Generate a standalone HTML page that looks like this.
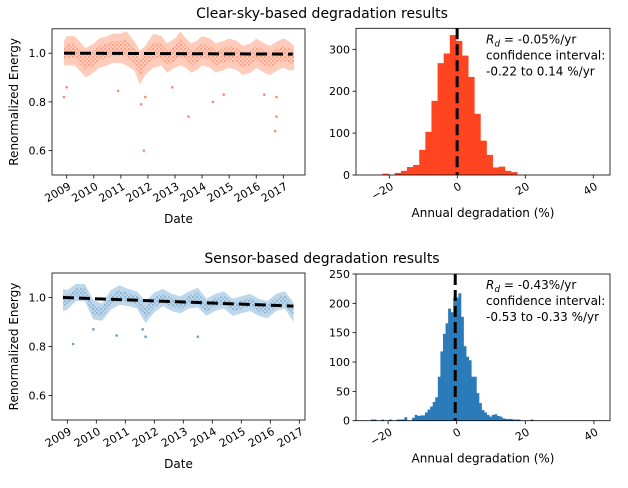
<!DOCTYPE html>
<html><head><meta charset="utf-8"><style>
body{margin:0;background:#fff}
svg{font-family:"DejaVu Sans","Liberation Sans",sans-serif}
</style></head><body>
<svg id="c" width="628" height="483" viewBox="0 0 628 483" xmlns="http://www.w3.org/2000/svg">
<defs>
<pattern id="dotsR" width="4" height="4" patternUnits="userSpaceOnUse"><circle cx="1" cy="1" r="0.9" fill="#ff5722" fill-opacity="0.6"/><circle cx="3" cy="3" r="0.9" fill="#ff5722" fill-opacity="0.4"/></pattern>
<pattern id="dotsB" width="4" height="4" patternUnits="userSpaceOnUse"><circle cx="1" cy="1" r="0.9" fill="#2b7bba" fill-opacity="0.6"/><circle cx="3" cy="3" r="0.9" fill="#2b7bba" fill-opacity="0.4"/></pattern>
</defs>
<text x="322" y="18" font-size="14" text-anchor="middle">Clear-sky-based degradation results</text>
<text x="322" y="263" font-size="14" text-anchor="middle">Sensor-based degradation results</text>
<g id="g"></g>
</svg>
<script>
// ---- Clear-sky scatter data ----
const csYears=[2008.9,2009.0,2009.3,2009.7,2010.0,2010.2,2010.5,2010.7,2011.0,2011.2,2011.5,2011.7,2011.9,2012.2,2012.5,2012.7,2013.0,2013.2,2013.4,2013.6,2013.8,2014.0,2014.3,2014.5,2014.8,2015.0,2015.3,2015.5,2015.8,2016.0,2016.3,2016.5,2016.8,2017.0,2017.2,2017.4];
const csCenter=[1.0,1.01,1.01,0.96,0.98,1.0,1.01,1.02,1.02,1.02,0.99,0.94,0.97,1.01,1.01,0.98,1.0,1.02,1.0,0.98,0.99,1.01,1.0,0.98,0.99,1.0,0.99,0.97,0.98,1.0,0.98,0.97,0.99,1.0,0.99,0.98];
const csSpread=[0.05,0.06,0.06,0.06,0.06,0.06,0.06,0.06,0.06,0.07,0.06,0.07,0.06,0.07,0.06,0.06,0.06,0.07,0.06,0.06,0.06,0.06,0.06,0.06,0.06,0.06,0.06,0.06,0.06,0.06,0.06,0.06,0.06,0.06,0.06,0.05];
const csOutX=[2008.9,2009.0,2010.9,2011.75,2011.85,2011.9,2012.9,2013.5,2014.4,2014.8,2016.3,2016.7,2016.75,2016.75];
const csOutY=[0.82,0.86,0.845,0.79,0.6,0.82,0.86,0.74,0.80,0.83,0.83,0.68,0.74,0.82];
const csTrend=[[2008.9,1.0],[2017.35,0.996]];
// ---- Sensor scatter data ----
const snYears=[2008.85,2009.0,2009.3,2009.6,2009.9,2010.2,2010.5,2010.8,2011.1,2011.4,2011.7,2012.0,2012.3,2012.6,2012.9,2013.2,2013.5,2013.8,2014.1,2014.4,2014.7,2015.0,2015.3,2015.6,2015.9,2016.2,2016.5,2016.8];
const snCenter=[0.99,0.99,1.02,1.02,0.95,0.94,0.99,1.01,1.0,0.99,0.94,0.98,1.0,0.98,0.97,0.99,1.0,0.96,0.98,0.99,0.96,0.97,0.98,0.96,0.95,0.98,0.99,0.94];
const snSpread=[0.045,0.04,0.035,0.035,0.04,0.035,0.04,0.04,0.035,0.035,0.045,0.04,0.035,0.035,0.035,0.035,0.04,0.035,0.035,0.035,0.035,0.035,0.035,0.035,0.035,0.035,0.035,0.04];
const snOutX=[2009.2,2010.7,2011.7,2013.5,2009.9,2011.6];
const snOutY=[0.81,0.845,0.84,0.84,0.87,0.87];
const snTrend=[[2008.85,1.0],[2016.8,0.965]];
// ---- Histograms ----
const csHistStart=-22, csHistWidth=1.8;
const csCounts=[3,0,5,10,19,24,60,103,177,267,290,334,320,285,234,146,82,48,18,20,10,7];
const snHistStart=-25, snHistWidth=0.75;
const snCounts=[2,2,0,0,2,0,0,2,0,0,2,2,2,6,0,0,5,10,8,9,9,14,19,24,32,40,75,118,148,166,191,185,210,210,217,177,127,109,103,75,75,47,30,18,14,10,7,10,11,8,7,4,3,3,3,2,2,2,0,0,0,0,2];
const yearTicks=[2009,2010,2011,2012,2013,2014,2015,2016,2017];
const scatterYTicks=[0.6,0.8,1.0];
const histXTicks=[-20,0,20,40];
const csYTicks=[0,100,200,300];
const snYTicks=[0,50,100,150,200,250];

const NS="http://www.w3.org/2000/svg";
const G=document.getElementById('g');
function mk(t,a,p){const e=document.createElementNS(NS,t);for(const k in a)e.setAttribute(k,a[k]);(p||G).appendChild(e);return e;}
function lin(d0,d1,r0,r1){return v=>r0+(v-d0)/(d1-d0)*(r1-r0);}

function scatterPanel(o){
  const X=lin(2009,2017,o.x2009,o.x2017), Y=lin(0.5,1.1,o.bottom,o.top);
  const g=mk('g',{});
  
  
  const clip='clip'+o.name;
  const cp=mk('clipPath',{id:clip},g);mk('rect',{x:o.left,y:o.top,width:o.right-o.left,height:o.bottom-o.top},cp);
  let up=[],dn=[];
  o.years.forEach((yr,i)=>{up.push(X(yr)+','+Y(o.center[i]+o.spread[i]));dn.unshift(X(yr)+','+Y(o.center[i]-o.spread[i]));});
  const band=mk('polygon',{points:up.concat(dn).join(' '),fill:o.color,'fill-opacity':0.3,'clip-path':`url(#${clip})`},g);
  
  
  let core=[],core2=[];
  o.years.forEach((yr,i)=>{core.push(X(yr)+','+Y(o.center[i]+o.spread[i]*0.5));core2.unshift(X(yr)+','+Y(o.center[i]-o.spread[i]*0.5));});
  const c2=mk('polygon',{points:core.concat(core2).join(' '),fill:`url(#${o.pat})`,'clip-path':`url(#${clip})`},g);
  
  
  o.outX.forEach((x,i)=>{const p=mk('circle',{cx:X(x),cy:Y(o.outY[i]),r:1.3,fill:o.color,'fill-opacity':0.7},g);
    
    });
  const tl=mk('line',{x1:X(o.trend[0][0]),y1:Y(o.trend[0][1]),x2:X(o.trend[1][0]),y2:Y(o.trend[1][1]),stroke:'#000','stroke-width':3,'stroke-dasharray':'11,5'},g);
  
  
  const fr=mk('rect',{x:o.left,y:o.top,width:o.right-o.left,height:o.bottom-o.top,fill:'none',stroke:'#000','stroke-width':0.8},g);
  
  
  scatterYTicks.forEach(v=>{mk('line',{x1:o.left-3.5,x2:o.left,y1:Y(v),y2:Y(v),stroke:'#000','stroke-width':0.8},g);
    const t=mk('text',{x:o.left-6,y:Y(v)+4,'font-size':11,'text-anchor':'end'},g);t.textContent=v.toFixed(1);
    
    });
  yearTicks.forEach(v=>{const x=X(v);mk('line',{x1:x,x2:x,y1:o.bottom,y2:o.bottom+3.5,stroke:'#000','stroke-width':0.8},g);
    const t=mk('text',{x:x+3,y:o.bottom+14,'font-size':11,'text-anchor':'end',transform:`rotate(-30 ${x+3} ${o.bottom+10})`},g);t.textContent=v;
    
    });
  const yl=mk('text',{x:0,y:0,'font-size':12,'text-anchor':'middle',transform:`translate(18 ${(o.top+o.bottom)/2}) rotate(-90)`},g);yl.textContent='Renormalized Energy';
  
  
  const xl=mk('text',{x:(o.left+o.right)/2,y:o.bottom+48,'font-size':12,'text-anchor':'middle'},g);xl.textContent='Date';
  
  
}
function histPanel(o){
  const X=lin(0,20,o.x0,o.x20), Y=lin(0,o.ymaxVal,o.bottom,o.yTopVal);
  const g=mk('g',{});
  
  
  o.counts.forEach((c,i)=>{if(!c)return;const a=X(o.start+i*o.width),b=X(o.start+(i+1)*o.width);
    const r=mk('rect',{x:a,y:Y(c),width:b-a+0.3,height:o.bottom-Y(c),fill:o.color},g);
    
    });
  const dl=mk('line',{x1:X(o.mean),x2:X(o.mean),y1:o.top,y2:o.bottom,stroke:'#000','stroke-width':3,'stroke-dasharray':'11,5'},g);
  
  
  const fr=mk('rect',{x:o.left,y:o.top,width:o.right-o.left,height:o.bottom-o.top,fill:'none',stroke:'#000','stroke-width':0.8},g);
  
  
  o.yticks.forEach(v=>{mk('line',{x1:o.left-3.5,x2:o.left,y1:Y(v),y2:Y(v),stroke:'#000','stroke-width':0.8},g);
    const t=mk('text',{x:o.left-6,y:Y(v)+4,'font-size':11,'text-anchor':'end'},g);t.textContent=v;
    
    });
  histXTicks.forEach(v=>{const x=X(v);mk('line',{x1:x,x2:x,y1:o.bottom,y2:o.bottom+3.5,stroke:'#000','stroke-width':0.8},g);
    const t=mk('text',{x:x+3,y:o.bottom+14,'font-size':11,'text-anchor':'end',transform:`rotate(-30 ${x+3} ${o.bottom+10})`},g);t.textContent=v<0?'\u2212'+(-v):v;
    
    });
  const xl=mk('text',{x:(o.left+o.right)/2,y:o.bottom+42,'font-size':12,'text-anchor':'middle'},g);xl.textContent='Annual degradation (%)';
  
  
  const ann=mk('text',{x:486,y:o.top+15,'font-size':12},g);
  
  
  ann.innerHTML=`<tspan font-style="italic">R</tspan><tspan font-style="italic" font-size="9" dy="3">d</tspan><tspan dy="-3"> = ${o.rd}%/yr</tspan><tspan x="486" dy="16">confidence interval:</tspan><tspan x="486" dy="16">${o.ci} %/yr</tspan>`;
}
scatterPanel({name:'clear-sky-scatter',left:52,right:305,top:28.8,bottom:175,x2009:66.7,x2017:283.3,color:'#ff5722',pat:'dotsR',years:csYears,center:csCenter,spread:csSpread,outX:csOutX,outY:csOutY,trend:csTrend});
scatterPanel({name:'sensor-scatter',left:52,right:305,top:273,bottom:420,x2009:67.3,x2017:299.3,color:'#2b7bba',pat:'dotsB',years:snYears,center:snCenter,spread:snSpread,outX:snOutX,outY:snOutY,trend:snTrend});
histPanel({name:'clear-sky-histogram',left:356,right:610,top:28.3,bottom:175,x0:457.3,x20:525.3,ymaxVal:300,yTopVal:49.3,counts:csCounts,start:csHistStart,width:csHistWidth,color:'#ff4422',mean:-0.05,yticks:csYTicks,rd:'-0.05',ci:'-0.22 to 0.14'});
histPanel({name:'sensor-histogram',left:356,right:610,top:274,bottom:420.7,x0:456.7,x20:525.3,ymaxVal:250,yTopVal:274,counts:snCounts,start:snHistStart,width:snHistWidth,color:'#2b7bba',mean:-0.43,yticks:snYTicks,rd:'-0.43',ci:'-0.53 to -0.33'});
</script>
</body></html>
